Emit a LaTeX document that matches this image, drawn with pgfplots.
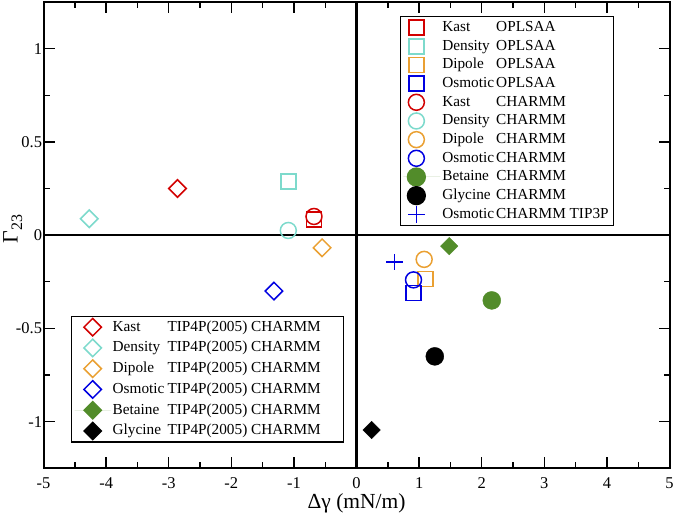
\documentclass[border=0pt]{standalone}
\usepackage{fontspec}
\setmainfont{Liberation Serif}
\usepackage{pgfplots}
\pgfplotsset{compat=1.18}

\definecolor{ckast}{RGB}{210,0,0}
\definecolor{cdens}{RGB}{125,218,204}
\definecolor{cdip}{RGB}{234,160,50}
\definecolor{cosm}{RGB}{0,0,225}
\definecolor{cbet}{RGB}{82,140,42}

\newcommand{\lbl}[2]{\makebox[54pt][l]{#1}#2}
\newcommand{\lblb}[2]{\makebox[226pt][l]{\makebox[55pt][l]{#1}#2}}

\pgfplotsset{
  common/.style={
    width=627pt, height=467pt, scale only axis,
    xmin=-5, xmax=5, ymin=-1.25, ymax=1.25,
  },
}

\begin{document}
\begin{tikzpicture}
\begin{axis}[
  common,
  xtick={-5,-4,...,5}, ytick={-1,-0.5,0,0.5,1},
  minor x tick num=1, minor y tick num=1,
  major tick length=11pt, minor tick length=6pt,
  every tick/.style={line width=1.4pt, black},
  axis line style={line width=2pt},
  /pgf/number format/assume math mode=true,
  tick label style={font=\fontsize{16.5}{16.5}\selectfont},
  xticklabel style={yshift=-6pt},
  yticklabel style={xshift=2pt},
  xlabel={Δγ (mN/m)},
  xlabel style={font=\fontsize{21.5}{21.5}\selectfont, at={(axis description cs:0.5,0)}, anchor=base, yshift=-40pt},
  ylabel={Γ\raisebox{-0.45ex}{\fontsize{16}{16}\selectfont 23}},
  ylabel style={font=\fontsize{22}{22}\selectfont, at={(axis description cs:-0.049,0.513)}, anchor=center},
  legend cell align=left,
  legend image code/.code={\path[draw=none] (0pt,0pt) -- (37pt,0pt); \draw[mark repeat=2,mark phase=2] plot coordinates {(0pt,0pt)(13pt,0pt)(26pt,0pt)};},
  legend style={at={(0.569,0.970)}, anchor=north west, draw=black, line width=1.3pt,
    font=\fontsize{15.3}{15.3}\selectfont, row sep=0.7pt,
    nodes={text height=11pt, text depth=3pt, inner sep=2pt}},
  after end axis/.code={\path (rel axis cs:1,1) ++(6pt,2pt);},
]
\addplot[black, line width=2.2pt, forget plot] coordinates {(-5,0) (5,0)};
\addplot[black, line width=2.2pt, forget plot] coordinates {(0,-1.25) (0,1.25)};
% OPLSAA squares
\addplot[only marks, mark=square, mark size=7.5pt, ckast, line width=1.5pt] coordinates {(-0.68,0.084)};
\addlegendentry{\lbl{Kast}{OPLSAA}}
\addplot[only marks, mark=square, mark size=7.5pt, cdens, line width=1.5pt] coordinates {(-1.09,0.287)};
\addlegendentry{\lbl{Density}{OPLSAA}}
\addplot[only marks, mark=square, mark size=7.5pt, cdip, line width=1.5pt] coordinates {(1.10,-0.235)};
\addlegendentry{\lbl{Dipole}{OPLSAA}}
\addplot[only marks, mark=square, mark size=7.5pt, cosm, line width=1.5pt] coordinates {(0.91,-0.31)};
\addlegendentry{\lbl{Osmotic}{OPLSAA}}
% CHARMM circles
\addplot[only marks, mark=o, mark size=8pt, ckast, line width=1.5pt] coordinates {(-0.68,0.100)};
\addlegendentry{\lbl{Kast}{CHARMM}}
\addplot[only marks, mark=o, mark size=8pt, cdens, line width=1.5pt] coordinates {(-1.09,0.025)};
\addlegendentry{\lbl{Density}{CHARMM}}
\addplot[only marks, mark=o, mark size=8pt, cdip, line width=1.5pt] coordinates {(1.08,-0.13)};
\addlegendentry{\lbl{Dipole}{CHARMM}}
\addplot[only marks, mark=o, mark size=8pt, cosm, line width=1.5pt] coordinates {(0.91,-0.24)};
\addlegendentry{\lbl{Osmotic}{CHARMM}}
\addplot[only marks, mark=*, mark size=9pt, cbet, draw=cbet, fill=cbet] coordinates {(2.16,-0.35)};
\addlegendentry{\lbl{Betaine}{CHARMM}}
\addplot[only marks, mark=*, mark size=9pt, black] coordinates {(1.25,-0.65)};
\addlegendentry{\lbl{Glycine}{CHARMM}}
\addplot[only marks, mark=+, mark size=8.3pt, cosm, line width=1.5pt] coordinates {(0.61,-0.145)};
\addlegendentry{\lbl{Osmotic}{CHARMM TIP3P}}
\end{axis}

\begin{axis}[
  common, hide axis,
  legend cell align=left,
  legend image code/.code={\path[draw=none] (0pt,0pt) -- (36pt,0pt); \draw[mark repeat=2,mark phase=2] plot coordinates {(0pt,0pt)(18pt,0pt)(36pt,0pt)};},
  legend style={at={(0.044,0.055)}, anchor=south west, draw=black, line width=1.3pt,
    font=\fontsize{15.3}{15.3}\selectfont, row sep=2.8pt,
    nodes={text height=11pt, text depth=3pt, inner sep=2pt}},
]
\addplot[only marks, mark=square, mark size=6.2pt, mark options={rotate=45}, ckast, line width=1.5pt] coordinates {(-2.86,0.25)};
\addlegendentry{\lblb{Kast}{TIP4P(2005) CHARMM}}
\addplot[only marks, mark=square, mark size=6.2pt, mark options={rotate=45}, cdens, line width=1.5pt] coordinates {(-4.27,0.088)};
\addlegendentry{\lblb{Density}{TIP4P(2005) CHARMM}}
\addplot[only marks, mark=square, mark size=6.2pt, mark options={rotate=45}, cdip, line width=1.5pt] coordinates {(-0.55,-0.068)};
\addlegendentry{\lblb{Dipole}{TIP4P(2005) CHARMM}}
\addplot[only marks, mark=square, mark size=6.2pt, mark options={rotate=45}, cosm, line width=1.5pt] coordinates {(-1.32,-0.30)};
\addlegendentry{\lblb{Osmotic}{TIP4P(2005) CHARMM}}
\addplot[only marks, mark=square*, mark size=6.2pt, mark options={rotate=45}, cbet, draw=cbet, fill=cbet] coordinates {(1.48,-0.059)};
\addlegendentry{\lblb{Betaine}{TIP4P(2005) CHARMM}}
\addplot[only marks, mark=square*, mark size=6.2pt, mark options={rotate=45}, black] coordinates {(0.24,-1.045)};
\addlegendentry{\lblb{Glycine}{TIP4P(2005) CHARMM}}
\end{axis}
\end{tikzpicture}
\end{document}
